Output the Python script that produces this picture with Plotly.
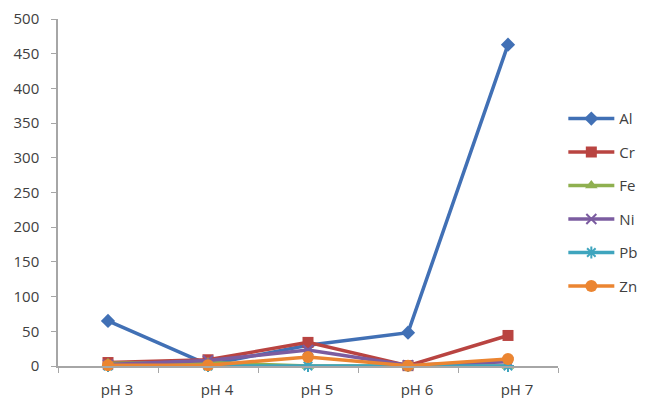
import plotly.graph_objects as go

# Metal concentrations measured at each pH
categories = ["pH 3", "pH 4", "pH 5", "pH 6", "pH 7"]
al = [65, 2, 30, 48, 463]
cr = [5, 9, 34, 0.5, 44]
fe = [4, 5, 0, 0, 0]
ni = [2, 8, 23, 1, 6]
pb = [0, 0, 0, 0, 0]
zn = [1, 1, 13, 0.5, 10]

y_ticks = [0, 50, 100, 150, 200, 250, 300, 350, 400, 450, 500]

series = [
    ("Al", al, "#4170B5", dict(symbol="diamond", size=11)),
    ("Cr", cr, "#B94441", dict(symbol="square", size=11)),
    ("Fe", fe, "#8FB050", dict(symbol="triangle-up", size=11)),
    ("Ni", ni, "#7B5CA0", dict(symbol="x-thin", size=10, line=dict(width=2, color="#7B5CA0"))),
    ("Pb", pb, "#3FA5BE", dict(symbol="asterisk", size=10, line=dict(width=2, color="#3FA5BE"))),
    ("Zn", zn, "#EB8531", dict(symbol="circle", size=12)),
]

fig = go.Figure()
for name, vals, color, marker in series:
    fig.add_trace(go.Scatter(
        x=categories, y=vals, name=name, mode="lines+markers",
        line=dict(color=color, width=3.5),
        marker=dict(color=color, **marker),
        legendgroup=name,
        cliponaxis=False,
    ))

# Invisible carrier for the category label axis (labels sit slightly right of the points)
fig.add_trace(go.Scatter(
    x=categories, y=[None] * len(categories), xaxis="x2", mode="markers",
    showlegend=False, hoverinfo="skip",
))

axis_color = "#A6A6A6"
font = dict(family="Open Sans, sans-serif", size=15, color="#404040")

fig.update_layout(
    width=649, height=398,
    margin=dict(l=58, r=91, t=19, b=32, autoexpand=False),
    paper_bgcolor="white", plot_bgcolor="white",
    font=font,
    showlegend=True,
    legend=dict(
        xref="container", x=0.868, xanchor="left",
        y=0.76, yanchor="top",
        itemwidth=46, tracegroupgap=11,
        font=font,
        bgcolor="rgba(0,0,0,0)",
    ),
    xaxis=dict(
        type="category", showline=True, linecolor=axis_color, linewidth=1.5,
        ticks="outside", tickson="boundaries", ticklen=5, tickcolor=axis_color,
        showgrid=False, zeroline=False, range=[-0.5, 4.5],
        showticklabels=False, automargin=False,
    ),
    xaxis2=dict(
        type="category", overlaying="x", anchor="y", side="bottom",
        range=[-0.59, 4.41], showline=False, ticks="", showgrid=False,
        zeroline=False, tickfont=font, ticklabelstandoff=13, automargin=False,
    ),
    yaxis=dict(
        range=[0, 500], tickvals=y_ticks, showline=True, linecolor=axis_color,
        linewidth=1.5, ticks="outside", ticklen=5, tickcolor=axis_color,
        showgrid=False, zeroline=False, tickfont=font, ticklabelstandoff=9,
        automargin=False,
    ),
)

fig.write_html("out.html")
